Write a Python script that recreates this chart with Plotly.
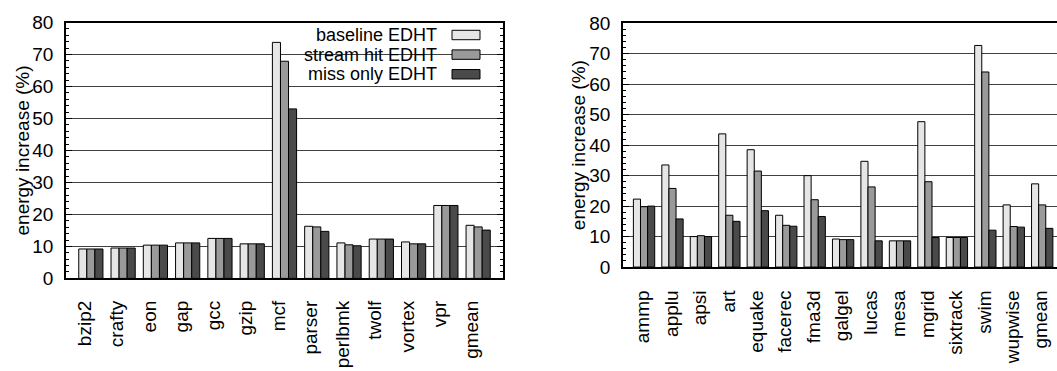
import plotly.graph_objects as go

# SPECint benchmarks (left panel)
int_benchmarks = ["bzip2", "crafty", "eon", "gap", "gcc", "gzip", "mcf",
                  "parser", "perlbmk", "twolf", "vortex", "vpr", "gmean"]
int_baseline = [9.2, 9.5, 10.4, 11.1, 12.5, 10.8, 73.8, 16.3, 11.1, 12.3, 11.4, 22.8, 16.6]
int_stream_hit = [9.2, 9.5, 10.4, 11.1, 12.5, 10.8, 67.9, 16.1, 10.5, 12.3, 10.8, 22.8, 16.1]
int_miss_only = [9.2, 9.5, 10.4, 11.1, 12.5, 10.8, 53.0, 14.7, 10.2, 12.3, 10.8, 22.8, 15.1]

# SPECfp benchmarks (right panel)
fp_benchmarks = ["ammp", "applu", "apsi", "art", "equake", "facerec", "fma3d", "galgel",
                 "lucas", "mesa", "mgrid", "sixtrack", "swim", "wupwise", "gmean"]
fp_baseline = [22.3, 33.5, 10.0, 43.7, 38.5, 17.0, 30.0, 9.2, 34.7, 8.6, 47.7, 9.7, 72.7, 20.4, 27.3]
fp_stream_hit = [19.8, 25.8, 10.3, 17.0, 31.5, 13.7, 22.1, 9.0, 26.3, 8.6, 28.0, 9.7, 64.0, 13.3, 20.4]
fp_miss_only = [20.0, 15.8, 10.0, 15.0, 18.5, 13.4, 16.6, 9.0, 8.6, 8.6, 9.7, 9.7, 12.1, 13.1, 12.7]

series_names = ["baseline EDHT", "stream hit EDHT", "miss only EDHT"]
series_colors = ["#e6e6e6", "#9a9a9a", "#4a4a4a"]

y_title = "energy increase (%)"
FONT = "Liberation Sans, Arial, Helvetica, sans-serif"
FS = 19
KEY_FS = 18
W, H = 1057, 371


def px_x(x):
    return x / W


def px_y(y):
    return 1 - y / H


fig = go.Figure()

panels = [
    ("x", "y", int_benchmarks, [int_baseline, int_stream_hit, int_miss_only]),
    ("x2", "y2", fp_benchmarks, [fp_baseline, fp_stream_hit, fp_miss_only]),
]
for xa, ya, cats, values in panels:
    for name, color, vals in zip(series_names, series_colors, values):
        fig.add_trace(go.Bar(
            x=cats, y=vals, name=name, xaxis=xa, yaxis=ya,
            marker=dict(color=color, line=dict(color="black", width=1)),
            showlegend=False,
        ))

yaxis_common = dict(
    range=[0, 80], dtick=10, ticks="inside", ticklen=6, tickwidth=1,
    tickcolor="black", showgrid=True, gridcolor="#404040", gridwidth=1,
    showline=True, linecolor="black", linewidth=1.5, zeroline=False,
    minor=dict(dtick=2, ticks="inside", ticklen=3, tickcolor="black", showgrid=False),
    tickfont=dict(family=FONT, size=FS, color="black"),
    ticklabelstandoff=7, fixedrange=True,
)
xaxis_common = dict(
    type="category", ticks="", showline=True, linecolor="black", linewidth=1.5,
    mirror=True, tickangle=-90, showgrid=False, zeroline=False,
    tickfont=dict(family=FONT, size=FS, color="black"), fixedrange=True,
)

fig.update_layout(
    width=W, height=H,
    margin=dict(l=0, r=0, t=0, b=0),
    paper_bgcolor="white", plot_bgcolor="white",
    barmode="group", bargap=0.25, bargroupgap=0,
    showlegend=False,
    font=dict(family=FONT, size=FS, color="black"),
    xaxis=dict(xaxis_common, domain=[px_x(66), px_x(503)], range=[-0.77, 12.77],
               anchor="y", ticklabelshift=-6, ticklabelstandoff=13),
    yaxis=dict(yaxis_common, domain=[px_y(284.5), px_y(13.3)], anchor="x", mirror="ticks"),
    xaxis2=dict(xaxis_common, domain=[px_x(623), 1.0], range=[-0.74, 14.52],
                anchor="y2", ticklabelshift=-1, ticklabelstandoff=14),
    yaxis2=dict(yaxis_common, domain=[px_y(272.5), px_y(14)], anchor="x2", mirror=False),
)

# y-axis titles
for xc, y0, y1 in [(22, 13.3, 284.5), (578, 14, 272.5)]:
    fig.add_annotation(
        text=y_title, xref="paper", yref="paper",
        x=px_x(xc), y=px_y((y0 + y1) / 2), textangle=-90,
        showarrow=False, xanchor="center", yanchor="middle",
        font=dict(family=FONT, size=FS, color="black"),
    )

# key box in the left panel: opaque backdrop over the grid, text then swatch
fig.add_shape(type="rect", xref="paper", yref="paper",
              x0=px_x(265), x1=px_x(491), y0=px_y(78), y1=px_y(14.5),
              fillcolor="white", line=dict(width=0), layer="between")
key_rows = [26.5, 47.3, 68.1]
for name, color, yc in zip(series_names, series_colors, key_rows):
    fig.add_annotation(
        text=name, xref="paper", yref="paper", x=px_x(438), y=px_y(yc),
        xanchor="right", yanchor="middle", showarrow=False, borderpad=0,
        font=dict(family=FONT, size=KEY_FS, color="black"),
    )
    fig.add_shape(type="rect", xref="paper", yref="paper",
                  x0=px_x(452), x1=px_x(480), y0=px_y(yc + 5), y1=px_y(yc - 5),
                  fillcolor=color, line=dict(color="black", width=1), layer="above")

fig.write_html("out.html")
